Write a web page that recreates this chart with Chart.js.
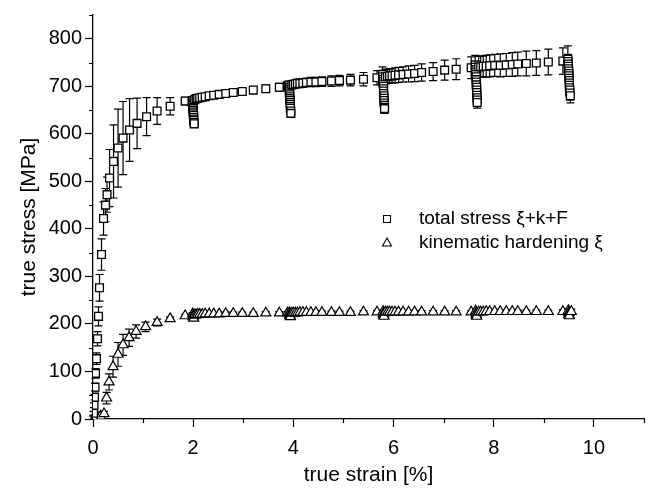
<!DOCTYPE html>
<html>
<head>
<meta charset="utf-8">
<script src="https://cdn.jsdelivr.net/npm/chart.js@4.4.0/dist/chart.umd.min.js"></script>
<style>
  body { margin: 0; background: #fff; }
</style>
</head>
<body>
<canvas id="grafico" width="653" height="490"></canvas>
<script>
// eixos
const xTicks = [0, 2, 4, 6, 8, 10];
const yTicks = [0, 100, 200, 300, 400, 500, 600, 700, 800];

// tensão total (quadrados)
const totalStrain = [
  0.00, 0.01, 0.02, 0.03, 0.04, 0.05, 0.07, 0.09, 0.11, 0.13, 0.17, 0.21, 0.25, 0.28, 0.33, 0.41, 0.50, 0.60, 0.73, 0.88, 1.07, 1.28, 1.54, 1.84,
  1.98, 1.98, 1.99, 1.99, 1.99, 2.00, 2.00, 2.00, 2.00, 2.01, 2.01, 2.01, 2.01, 2.02, 2.02,
  2.03, 2.06, 2.09, 2.13, 2.18, 2.24, 2.32, 2.41, 2.52, 2.65, 2.80, 2.98, 3.20, 3.45, 3.72, 3.88,
  3.91, 3.91, 3.92, 3.92, 3.92, 3.93, 3.93, 3.93, 3.93, 3.94, 3.94, 3.94, 3.94, 3.95, 3.95,
  3.97, 4.00, 4.04, 4.08, 4.13, 4.19, 4.26, 4.35, 4.45, 4.57, 4.76, 4.92, 5.14, 5.40, 5.67,
  5.78, 5.78, 5.79, 5.79, 5.79, 5.80, 5.80, 5.80, 5.80, 5.81, 5.81, 5.81, 5.81, 5.82, 5.82, 5.82,
  5.84, 5.88, 5.92, 5.97, 6.03, 6.10, 6.19, 6.30, 6.42, 6.56, 6.79, 7.02, 7.25, 7.55,
  7.63, 7.63, 7.64, 7.64, 7.64, 7.65, 7.65, 7.65, 7.65, 7.66, 7.66, 7.66, 7.66, 7.67, 7.67, 7.67,
  7.70, 7.74, 7.79, 7.85, 7.92, 8.02, 8.13, 8.25, 8.37, 8.48, 8.65, 8.85, 9.09, 9.38,
  9.48, 9.48, 9.49, 9.49, 9.49, 9.50, 9.50, 9.50, 9.50, 9.51, 9.51, 9.51, 9.51, 9.52, 9.52, 9.53
];
const totalStress = [
  3, 12, 29, 46, 67, 96, 127, 169, 216, 276, 346, 422, 450, 472, 507, 542, 570, 591, 608, 622, 636, 648, 658, 669,
  670, 667, 663, 660, 656, 653, 649, 646, 642, 639, 635, 631, 628, 624, 621,
  672, 674, 675, 676, 677, 678, 680, 681, 683, 685, 687, 689, 692, 695, 698, 701,
  702, 698, 694, 690, 686, 682, 678, 674, 670, 666, 662, 658, 654, 648, 643,
  703, 704, 705, 706, 706, 707, 708, 709, 709, 710, 711, 712, 713, 715, 718,
  725, 720, 715, 710, 705, 700, 695, 690, 685, 680, 675, 670, 665, 660, 656, 653,
  720, 721, 722, 722, 723, 724, 725, 726, 727, 729, 731, 734, 736, 739,
  745, 740, 735, 730, 725, 720, 714, 709, 703, 698, 692, 687, 681, 676, 671, 666,
  741, 741, 742, 742, 743, 744, 744, 745, 746, 747, 748, 749, 751, 753,
  757, 752, 747, 742, 737, 732, 727, 722, 717, 712, 707, 702, 697, 692, 686, 680
];
const totalErr = [
  3, 4, 5, 6, 8, 10, 12, 15, 20, 28, 33, 35, 35, 37, 60, 77, 82, 77, 66, 53, 40, 28, 18, 8,
  6, 5, 5, 5, 5, 5, 5, 5, 5, 5, 5, 5, 5, 5, 5,
  5, 5, 5, 5, 5, 5, 6, 6, 6, 6, 7, 7, 7, 8, 8, 8,
  9, 8, 8, 8, 8, 8, 8, 8, 8, 8, 8, 8, 8, 8, 8,
  8, 8, 8, 9, 9, 9, 9, 10, 10, 10, 11, 11, 12, 14, 15,
  16, 10, 10, 10, 10, 10, 10, 10, 10, 10, 10, 10, 10, 10, 10, 10,
  15, 15, 15, 15, 16, 16, 16, 17, 17, 18, 19, 21, 22, 23,
  20, 12, 12, 12, 12, 12, 12, 12, 12, 12, 12, 12, 12, 12, 12, 12,
  22, 22, 22, 23, 23, 23, 24, 24, 25, 25, 26, 26, 27, 28,
  28, 15, 15, 15, 15, 15, 15, 15, 15, 15, 15, 15, 15, 15, 15, 15
];

// endurecimento cinemático (triângulos)
const kinStrain = [
  0.02, 0.04, 0.06, 0.08, 0.10, 0.15, 0.22, 0.27, 0.32, 0.40, 0.50, 0.60, 0.72, 0.86, 1.05, 1.28, 1.54, 1.84,
  1.99, 2.00, 2.00, 2.01,
  2.03, 2.06, 2.09, 2.13, 2.18, 2.24, 2.32, 2.41, 2.52, 2.65, 2.80, 2.98, 3.20, 3.45, 3.72, 3.88,
  3.92, 3.93, 3.93, 3.94,
  3.97, 4.00, 4.04, 4.08, 4.13, 4.19, 4.26, 4.35, 4.45, 4.57, 4.76, 4.92, 5.14, 5.40, 5.67,
  5.79, 5.80, 5.80, 5.81,
  5.84, 5.88, 5.92, 5.97, 6.03, 6.10, 6.19, 6.30, 6.42, 6.56, 6.79, 7.02, 7.25, 7.55,
  7.64, 7.65, 7.65, 7.66,
  7.70, 7.74, 7.79, 7.85, 7.92, 8.02, 8.13, 8.25, 8.37, 8.48, 8.65, 8.85, 9.09, 9.38,
  9.49, 9.50, 9.50, 9.51, 9.55
];
const kinStress = [
  1, 2, 2, 3, 4, 6, 11, 44, 78, 110, 136, 156, 171, 184, 194, 203, 211, 217,
  221, 218, 215, 212,
  219, 219, 220, 220, 220, 221, 221, 221, 221, 222, 222, 222, 222, 223, 223, 223,
  224, 221, 218, 215,
  223, 223, 223, 223, 224, 224, 224, 224, 224, 224, 224, 224, 224, 225, 225,
  226, 222, 219, 216,
  225, 225, 225, 225, 225, 225, 225, 225, 225, 225, 225, 225, 225, 225,
  227, 223, 219, 216,
  225, 225, 225, 226, 226, 226, 226, 226, 226, 226, 226, 226, 226, 226,
  228, 224, 220, 217, 226
];
const kinErr = [
  1, 1, 1, 1, 2, 3, 5, 12, 17, 22, 25, 22, 18, 14, 10, 7, 4, 3,
  3, 3, 3, 3,
  3, 3, 3, 3, 3, 3, 3, 3, 3, 3, 3, 3, 3, 3, 3, 3,
  3, 3, 3, 3,
  3, 3, 3, 3, 3, 3, 3, 3, 3, 3, 3, 3, 3, 3, 3,
  3, 3, 3, 3,
  3, 3, 3, 3, 3, 3, 3, 3, 3, 3, 3, 3, 3, 3,
  3, 3, 3, 3,
  3, 3, 3, 3, 3, 3, 3, 3, 3, 3, 3, 3, 3, 4,
  4, 3, 3, 3, 5
];

const toPoints = (xs, ys) => xs.map((x, i) => ({ x: x, y: ys[i] }));

// barras de erro, desenhadas antes dos marcadores
const errorBars = {
  id: 'errorBars',
  beforeDatasetsDraw(chart) {
    const ctx = chart.ctx;
    const xs = chart.scales.x, ys = chart.scales.y;
    ctx.save();
    ctx.strokeStyle = '#000';
    ctx.lineWidth = 1.2;
    chart.data.datasets.forEach(ds => {
      ds.data.forEach((p, i) => {
        const e = ds.errors[i];
        const px = xs.getPixelForValue(p.x);
        const top = ys.getPixelForValue(p.y + e);
        const bot = ys.getPixelForValue(Math.max(p.y - e, 0));
        ctx.beginPath();
        ctx.moveTo(px, top); ctx.lineTo(px, bot);
        ctx.moveTo(px - 4, top); ctx.lineTo(px + 4, top);
        if (p.y - e > 0) { ctx.moveTo(px - 4, bot); ctx.lineTo(px + 4, bot); }
        ctx.stroke();
      });
    });
    ctx.restore();
  }
};

// ticks menores
const minorTicks = {
  id: 'minorTicks',
  afterDraw(chart) {
    const ctx = chart.ctx;
    const xs = chart.scales.x, ys = chart.scales.y;
    ctx.save();
    ctx.strokeStyle = '#000';
    ctx.lineWidth = 1.2;
    ctx.beginPath();
    for (let v = 1; v <= 11; v += 2) {
      const px = Math.round(xs.getPixelForValue(v)) + 0.5;
      ctx.moveTo(px, ys.bottom); ctx.lineTo(px, ys.bottom + 4);
    }
    for (let v = 50; v <= 850; v += 100) {
      const py = Math.round(ys.getPixelForValue(v)) + 0.5;
      ctx.moveTo(xs.left, py); ctx.lineTo(xs.left - 4, py);
    }
    ctx.stroke();
    ctx.restore();
  }
};

// legenda dentro do gráfico
const legendaInterna = {
  id: 'legendaInterna',
  afterDraw(chart) {
    const ctx = chart.ctx;
    const sx = 387, rows = [219, 243];
    ctx.save();
    ctx.strokeStyle = '#000';
    ctx.lineWidth = 1.1;
    ctx.fillStyle = '#fff';
    // quadrado
    ctx.beginPath();
    ctx.rect(sx - 3.5, rows[0] - 3.5, 7, 7);
    ctx.fill(); ctx.stroke();
    // triângulo
    ctx.beginPath();
    ctx.moveTo(sx, rows[1] - 5);
    ctx.lineTo(sx + 4.5, rows[1] + 3);
    ctx.lineTo(sx - 4.5, rows[1] + 3);
    ctx.closePath();
    ctx.fill(); ctx.stroke();
    ctx.fillStyle = '#000';
    ctx.font = '19px "Liberation Sans", Arial, sans-serif';
    ctx.textBaseline = 'middle';
    chart.data.datasets.forEach((ds, i) => {
      ctx.fillText(ds.label, 419, rows[i]);
    });
    ctx.restore();
  }
};

const fonte = '"Liberation Sans", Arial, sans-serif';

const ctx = document.getElementById('grafico').getContext('2d');
const grafico = new Chart(ctx, {
  type: 'scatter',
  data: {
    datasets: [{
      label: 'total stress \u03BE+k+F',
      data: toPoints(totalStrain, totalStress),
      errors: totalErr,
      pointStyle: 'rect',
      pointRadius: 5.5,
      pointBorderWidth: 1.3,
      borderColor: '#000',
      pointBackgroundColor: '#fff',
      pointBorderColor: '#000'
    }, {
      label: 'kinematic hardening \u03BE',
      data: toPoints(kinStrain, kinStress),
      errors: kinErr,
      pointStyle: 'triangle',
      pointRadius: 5.8,
      pointBorderWidth: 1.2,
      borderColor: '#000',
      pointBackgroundColor: '#fff',
      pointBorderColor: '#000'
    }]
  },
  options: {
    responsive: false,
    animation: false,
    layout: { padding: { top: 11, right: 9, left: 0, bottom: 0 } },
    plugins: {
      legend: { display: false },
      tooltip: { enabled: false }
    },
    scales: {
      x: {
        type: 'linear',
        min: 0, max: 11,
        afterBuildTicks: axis => { axis.ticks = xTicks.map(v => ({ value: v })); },
        afterFit: scale => { scale.height = 71; },
        border: { display: true, color: '#000', width: 1.3 },
        grid: { display: true, drawOnChartArea: false, drawTicks: true, tickLength: 8, tickColor: '#000', tickWidth: 1.2 },
        ticks: { color: '#000', font: { family: fonte, size: 20 }, padding: 9, maxRotation: 0 },
        title: { display: true, text: 'true strain [%]', color: '#000', font: { family: fonte, size: 21 }, padding: { top: 0, bottom: 2 } }
      },
      y: {
        type: 'linear',
        min: 0, max: 850,
        afterBuildTicks: axis => { axis.ticks = yTicks.map(v => ({ value: v })); },
        afterFit: scale => { scale.width = 93; },
        border: { display: true, color: '#000', width: 1.3 },
        grid: { display: true, drawOnChartArea: false, drawTicks: true, tickLength: 8, tickColor: '#000', tickWidth: 1.2 },
        ticks: { color: '#000', font: { family: fonte, size: 20 }, padding: 3 },
        title: { display: true, text: 'true stress [MPa]', color: '#000', font: { family: fonte, size: 21 }, padding: { top: 17, bottom: 0 } }
      }
    }
  },
  plugins: [errorBars, minorTicks, legendaInterna]
});
</script>
</body>
</html>
